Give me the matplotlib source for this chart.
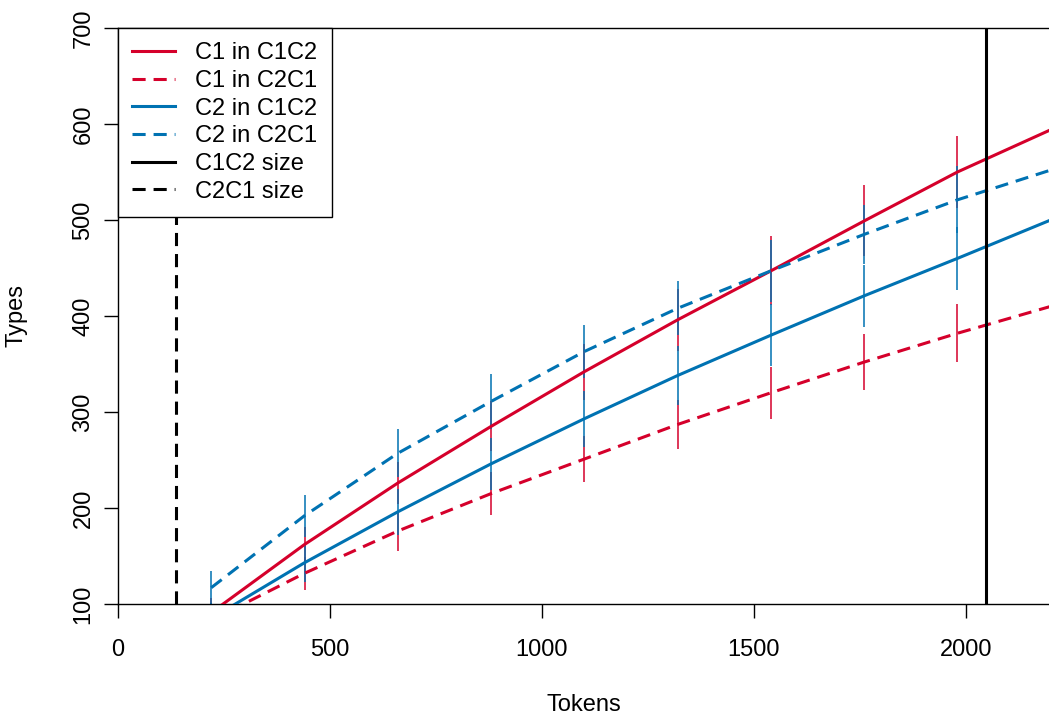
import matplotlib
matplotlib.use("Agg")
import matplotlib.pyplot as plt

plt.rcParams["font.family"] = ["Liberation Sans", "DejaVu Sans"]

RED = "#D5002B"
BLUE = "#0072B2"

# curve values (types) at each token count
tokens = [220, 440, 660, 880, 1100, 1320, 1540, 1760, 1980, 2200]
c1_in_c1c2 = [91, 162, 226, 285, 342, 396, 447, 499, 550, 594]
c1_in_c2c1 = [83, 132, 176, 215, 251, 287, 320, 352, 382, 410]
c2_in_c1c2 = [85, 143, 196, 246, 293, 338, 380, 421, 460, 500]
c2_in_c2c1 = [117, 192, 257, 311, 363, 408, 447, 485, 521, 552]

# half-widths of the vertical bars at the sampled points
bar_tokens = [220, 440, 660, 880, 1100, 1320, 1540, 1760, 1980]
err_c1_in_c1c2 = [15, 18, 22, 26, 29, 32, 36, 37, 38]
err_c1_in_c2c1 = [14, 17, 21, 22, 24, 25.5, 27, 29, 30]
err_c2_in_c1c2 = [16, 20, 24, 27, 29, 31, 32, 32.5, 33]
err_c2_in_c2c1 = [17, 22, 25, 29, 28, 28, 32, 31, 35]

c1c2_size = 2047
c2c1_size = 137

DASH = (0, (4.3, 2.6))
FS = 17


def bars(ax, vals, errs, color):
    n = len(bar_tokens)
    lo = [v - e for v, e in zip(vals[:n], errs)]
    hi = [v + e for v, e in zip(vals[:n], errs)]
    ax.vlines(bar_tokens, lo, hi, color=color, lw=1.1, zorder=2)


fig = plt.figure(figsize=(10.49, 7.18), dpi=100)
ax = fig.add_axes([0.1125, 0.1588, 0.8875, 0.8022])

bars(ax, c1_in_c1c2, err_c1_in_c1c2, RED)
bars(ax, c1_in_c2c1, err_c1_in_c2c1, RED)
bars(ax, c2_in_c1c2, err_c2_in_c1c2, BLUE)
bars(ax, c2_in_c2c1, err_c2_in_c2c1, BLUE)

ax.plot(tokens, c1_in_c1c2, color=RED, lw=2.2, label="C1 in C1C2", zorder=3)
ax.plot(tokens, c1_in_c2c1, color=RED, lw=2.2, ls=DASH, label="C1 in C2C1", zorder=3)
ax.plot(tokens, c2_in_c1c2, color=BLUE, lw=2.2, label="C2 in C1C2", zorder=3)
ax.plot(tokens, c2_in_c2c1, color=BLUE, lw=2.2, ls=DASH, label="C2 in C2C1", zorder=3)
ax.axvline(c1c2_size, color="black", lw=2.2, label="C1C2 size", zorder=3)
ax.axvline(c2c1_size, color="black", lw=2.2, ls=DASH, label="C2C1 size", zorder=3)

ax.set_xlim(0, 2196)
ax.set_ylim(100, 700)
ax.set_xticks([0, 500, 1000, 1500, 2000])
ax.set_yticks([100, 200, 300, 400, 500, 600, 700])
ax.tick_params(axis="both", labelsize=FS, length=10, width=1)
ax.tick_params(axis="x", pad=15)
ax.tick_params(axis="y", pad=7)
for lab in ax.get_yticklabels():
    lab.set_rotation(90)
    lab.set_va("center")
ax.spines["right"].set_visible(False)
for s in ["left", "top", "bottom"]:
    ax.spines[s].set_linewidth(1.0)

ax.set_xlabel("Tokens", fontsize=FS, labelpad=24)
ax.set_ylabel("Types", fontsize=FS, labelpad=32)

leg = ax.legend(loc="upper left", bbox_to_anchor=(0, 1), borderaxespad=0,
                fontsize=FS, fancybox=False, framealpha=1, edgecolor="black",
                handlelength=1.82, handletextpad=0.85, labelspacing=0.24,
                borderpad=0.6)
leg.get_frame().set_linewidth(1.0)
leg.set_zorder(5)

fig.savefig("out.png", dpi=100)
